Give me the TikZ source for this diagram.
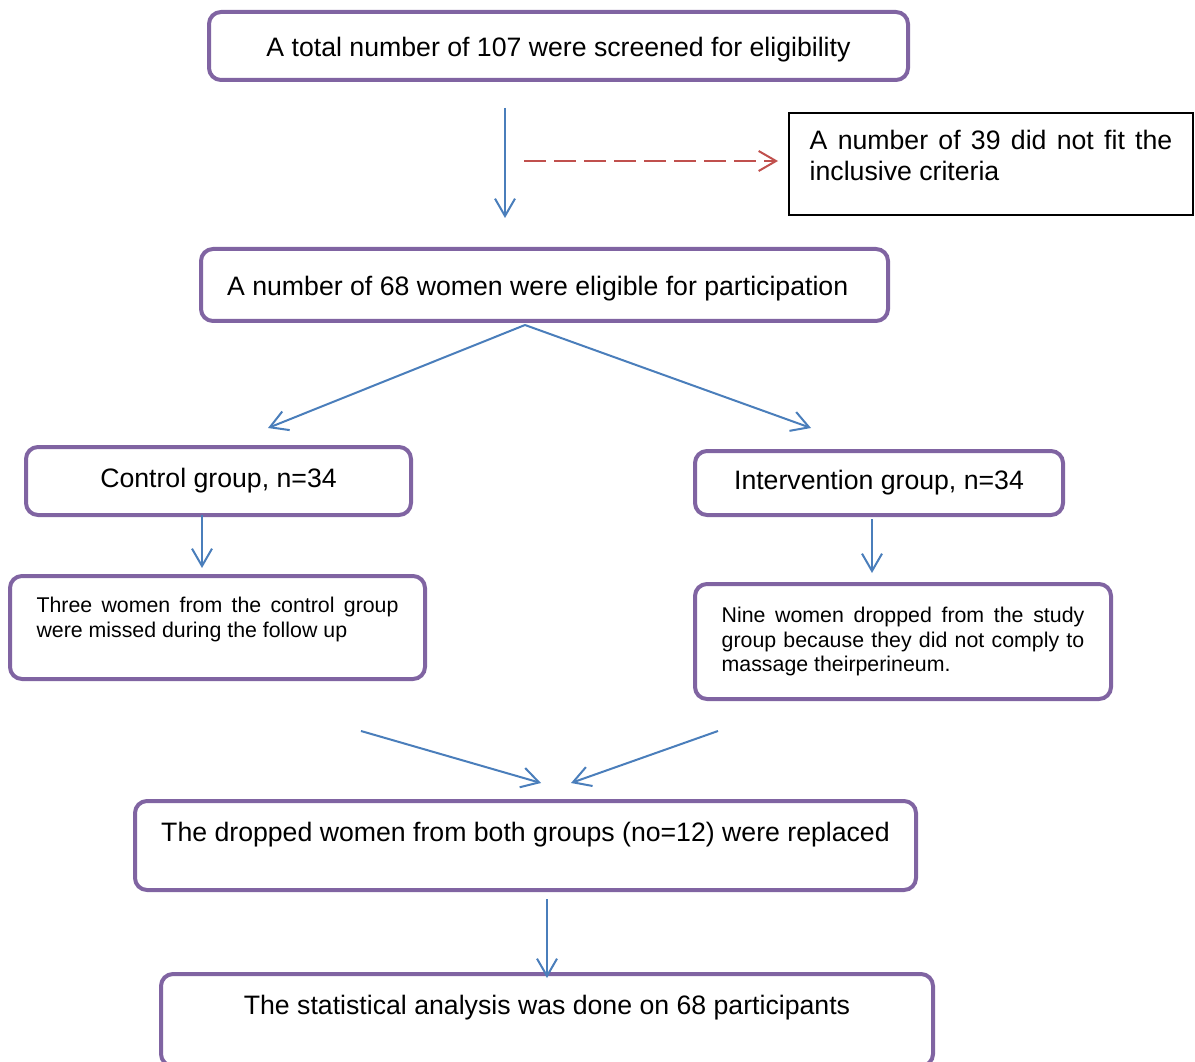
\documentclass[tikz,border=0pt]{standalone}
\usepackage{fontspec}
\setmainfont{Liberation Sans}
\usetikzlibrary{arrows.meta,calc}

\tikzset{
  pbox/.style={draw={rgb, 255:red, 128; green, 100; blue, 162}, line width=3pt, rounded corners=9pt, fill=white, inner sep=0pt, font=\fontsize{20}{23.25}\selectfont},
  xbox/.style={draw=black, line width=1.5pt, fill=white, inner sep=0pt, font=\fontsize{20}{23.25}\selectfont},
  small/.style={font=\fontsize{16}{18.6}\selectfont},
  flow/.style={draw={rgb, 255:red, 74; green, 126; blue, 187}, line width=1.5pt, -{Straight Barb[length=13pt,width=15pt]}},
  dashflow/.style={draw={rgb, 255:red, 192; green, 80; blue, 77}, line width=1.5pt, dash pattern=on 16.5pt off 6pt, -{Straight Barb[length=13pt,width=15pt]}}
}

\begin{document}
\begin{tikzpicture}[x=0.75pt,y=0.75pt,yscale=-1]
    \useasboundingbox (0,0) rectangle (1195,1062);

    %Shape: Rounded Rectangle [screen]
    \node[pbox, minimum width=524.25pt, minimum height=51pt, text height=20.5pt] (screen) at (558.5,46) {A total number of 107 were screened for eligibility};
    %Shape: Rectangle [excl]
    \node[xbox, minimum width=303pt, minimum height=76.5pt, text width=272pt, align=justify, text depth=36pt] (excl) at (991,164) {A number of 39 did not fit the inclusive criteria};
    %Shape: Rounded Rectangle [elig]
    \node[pbox, minimum width=515.25pt, minimum height=54pt, text width=476pt, align=flush left, text height=20.5pt] (elig) at (544.5,285) {A number of 68 women were eligible for participation};
    %Shape: Rounded Rectangle [ctrl]
    \node[pbox, minimum width=288.75pt, minimum height=51pt] (ctrl) at (218.5,481) {Control group, n=34};
    %Shape: Rounded Rectangle [intv]
    \node[pbox, minimum width=276pt, minimum height=48pt] (intv) at (879,483) {Intervention group, n=34};
    %Shape: Rounded Rectangle [ctrlloss]
    \node[pbox, small, minimum width=311.25pt, minimum height=77.25pt, text width=271.5pt, align=justify, text depth=34pt] (ctrlloss) at (217.5,627.5) {Three women from the control group were missed during the follow up};
    %Shape: Rounded Rectangle [intvloss]
    \node[pbox, small, minimum width=312pt, minimum height=86.25pt, text width=272pt, align=justify] (intvloss) at (903,641.5) {Nine women dropped from the study group because they did not comply to massage theirperineum.};
    %Shape: Rounded Rectangle [repl]
    \node[pbox, minimum width=585.75pt, minimum height=66.75pt, text depth=21pt] (repl) at (525.5,845.5) {The dropped women from both groups (no=12) were replaced};
    %Shape: Rounded Rectangle [final]
    \node[pbox, minimum width=579pt, minimum height=69pt, text depth=23pt] (final) at (547,1020) {The statistical analysis was done on 68 participants};

    %Straight Lines
    \draw[flow] ($(screen.south)+(-53.5,26)$) -- ($(elig.north)+(-39.5,-29)$);
    \draw[dashflow] ($(excl.west)+(-264,-3)$) -- ($(excl.west)+(-10,-3)$);

    %Straight Lines
    \draw[flow] ($(elig.south)+(-19.5,2)$) -- ($(ctrl.north)+(49.5,-17)$);
    \draw[flow] ($(elig.south)+(-19.5,2)$) -- ($(intv.north)+(-68,-21)$);

    %Straight Lines
    \draw[flow] ($(ctrl.south)+(-16.5,-2)$) -- ($(ctrlloss.north)+(-15.5,-6)$);
    \draw[flow] ($(intv.south)+(-7,2)$) -- ($(intvloss.north)+(-31,-9)$);

    %Straight Lines
    \draw[flow] ($(ctrlloss.south)+(143.5,50)$) -- ($(repl.north)+(15.5,-16)$);
    \draw[flow] ($(intvloss.south)+(-185,30)$) -- ($(repl.north)+(45.5,-16)$);
    \draw[flow] ($(repl.south)+(21.5,7)$) -- ($(final.north)+(0,6)$);

\end{tikzpicture}
\end{document}
